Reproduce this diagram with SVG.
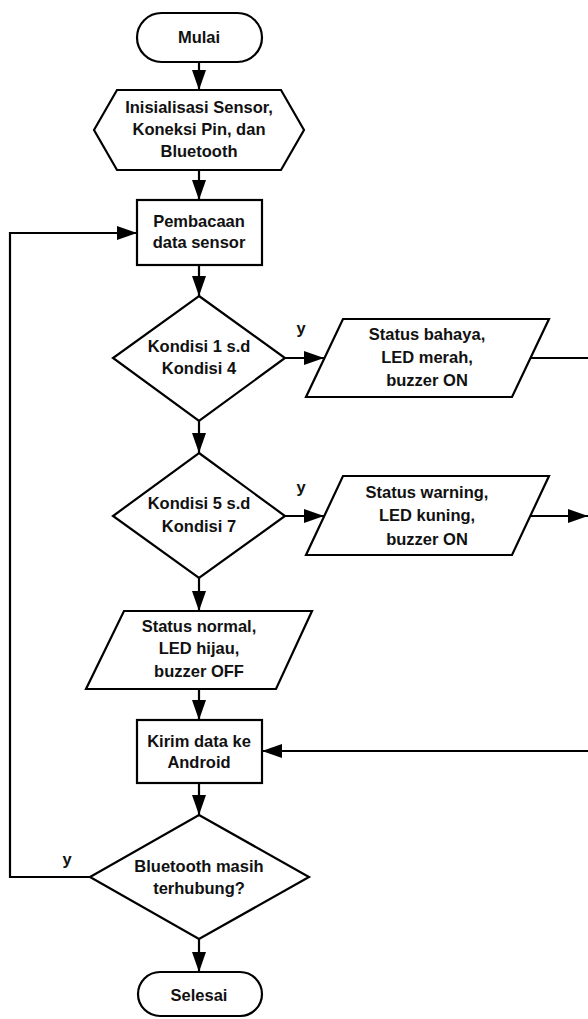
<svg xmlns="http://www.w3.org/2000/svg" width="588" height="1019" viewBox="0 0 588 1019">
<style>
.s{fill:#fff;stroke:#000;stroke-width:2.2}
.c{fill:none;stroke:#000;stroke-width:2.2}
text{font-family:"Liberation Sans",Arial,sans-serif;font-weight:bold;font-size:16.5px;fill:#111;text-anchor:middle}
</style>
<defs>
<marker id="ah" viewBox="0 0 20 14" refX="20" refY="7" markerWidth="20" markerHeight="14" markerUnits="userSpaceOnUse" orient="auto">
<path d="M0,0 L20,7 L0,14 z" fill="#000"/>
</marker>
</defs>
<rect width="588" height="1019" fill="#fff"/>
<g id="connectors">
<path class="c" d="M199,62 V90" marker-end="url(#ah)"/>
<path class="c" d="M199,170 V200" marker-end="url(#ah)"/>
<path class="c" d="M199,265 V296" marker-end="url(#ah)"/>
<path class="c" d="M199,421 V453" marker-end="url(#ah)"/>
<path class="c" d="M199,578 V611" marker-end="url(#ah)"/>
<path class="c" d="M199,689 V720" marker-end="url(#ah)"/>
<path class="c" d="M199,783 V815" marker-end="url(#ah)"/>
<path class="c" d="M199,939 V972" marker-end="url(#ah)"/>
<path class="c" d="M285,358 H324" marker-end="url(#ah)"/>
<path class="c" d="M285,516 H324" marker-end="url(#ah)"/>
<path class="c" d="M530,358 H588"/>
<path class="c" d="M530,516 H588" marker-end="url(#ah)"/>
<path class="c" d="M588,751 H262" marker-end="url(#ah)"/>
<path class="c" d="M90,877 H10 V233 H137" marker-end="url(#ah)"/>
<text x="301" y="334">y</text>
<text x="301" y="493">y</text>
<text x="67" y="865">y</text>
</g>
<g id="mulai">
<rect class="s" x="137" y="13" width="125" height="49" rx="24.5"/>
<text x="199" y="43">Mulai</text>
</g>
<g id="inisialisasi">
<polygon class="s" points="94,130 117,90 281,90 304,130 281,170 117,170"/>
<text x="199" y="113">Inisialisasi Sensor,</text>
<text x="199" y="135">Koneksi Pin, dan</text>
<text x="199" y="157">Bluetooth</text>
</g>
<g id="pembacaan">
<rect class="s" x="137" y="200" width="125" height="65"/>
<text x="199" y="227">Pembacaan</text>
<text x="199" y="248">data sensor</text>
</g>
<g id="kondisi1">
<polygon class="s" points="199,296 285,358 199,421 113,358"/>
<text x="199" y="352">Kondisi 1 s.d</text>
<text x="199" y="374">Kondisi 4</text>
</g>
<g id="bahaya">
<polygon class="s" points="343,319 549,319 512,397 306,397"/>
<text x="427" y="340">Status bahaya,</text>
<text x="427" y="363">LED merah,</text>
<text x="427" y="386">buzzer ON</text>
</g>
<g id="kondisi2">
<polygon class="s" points="199,453 285,516 199,578 113,516"/>
<text x="199" y="509">Kondisi 5 s.d</text>
<text x="199" y="532">Kondisi 7</text>
</g>
<g id="warning">
<polygon class="s" points="343,476 549,476 512,555 306,555"/>
<text x="427" y="498">Status warning,</text>
<text x="427" y="521">LED kuning,</text>
<text x="427" y="545">buzzer ON</text>
</g>
<g id="normal">
<polygon class="s" points="124,611 312,611 276,689 86,689"/>
<text x="199" y="632">Status normal,</text>
<text x="199" y="654">LED hijau,</text>
<text x="199" y="677">buzzer OFF</text>
</g>
<g id="kirim">
<rect class="s" x="137" y="720" width="125" height="63"/>
<text x="199" y="747">Kirim data ke</text>
<text x="199" y="768">Android</text>
</g>
<g id="bluetooth">
<polygon class="s" points="199,815 309,877 199,939 90,877"/>
<text x="199" y="872">Bluetooth masih</text>
<text x="199" y="894">terhubung?</text>
</g>
<g id="selesai">
<rect class="s" x="138" y="972" width="124" height="44" rx="22"/>
<text x="199" y="1001">Selesai</text>
</g>
</svg>
